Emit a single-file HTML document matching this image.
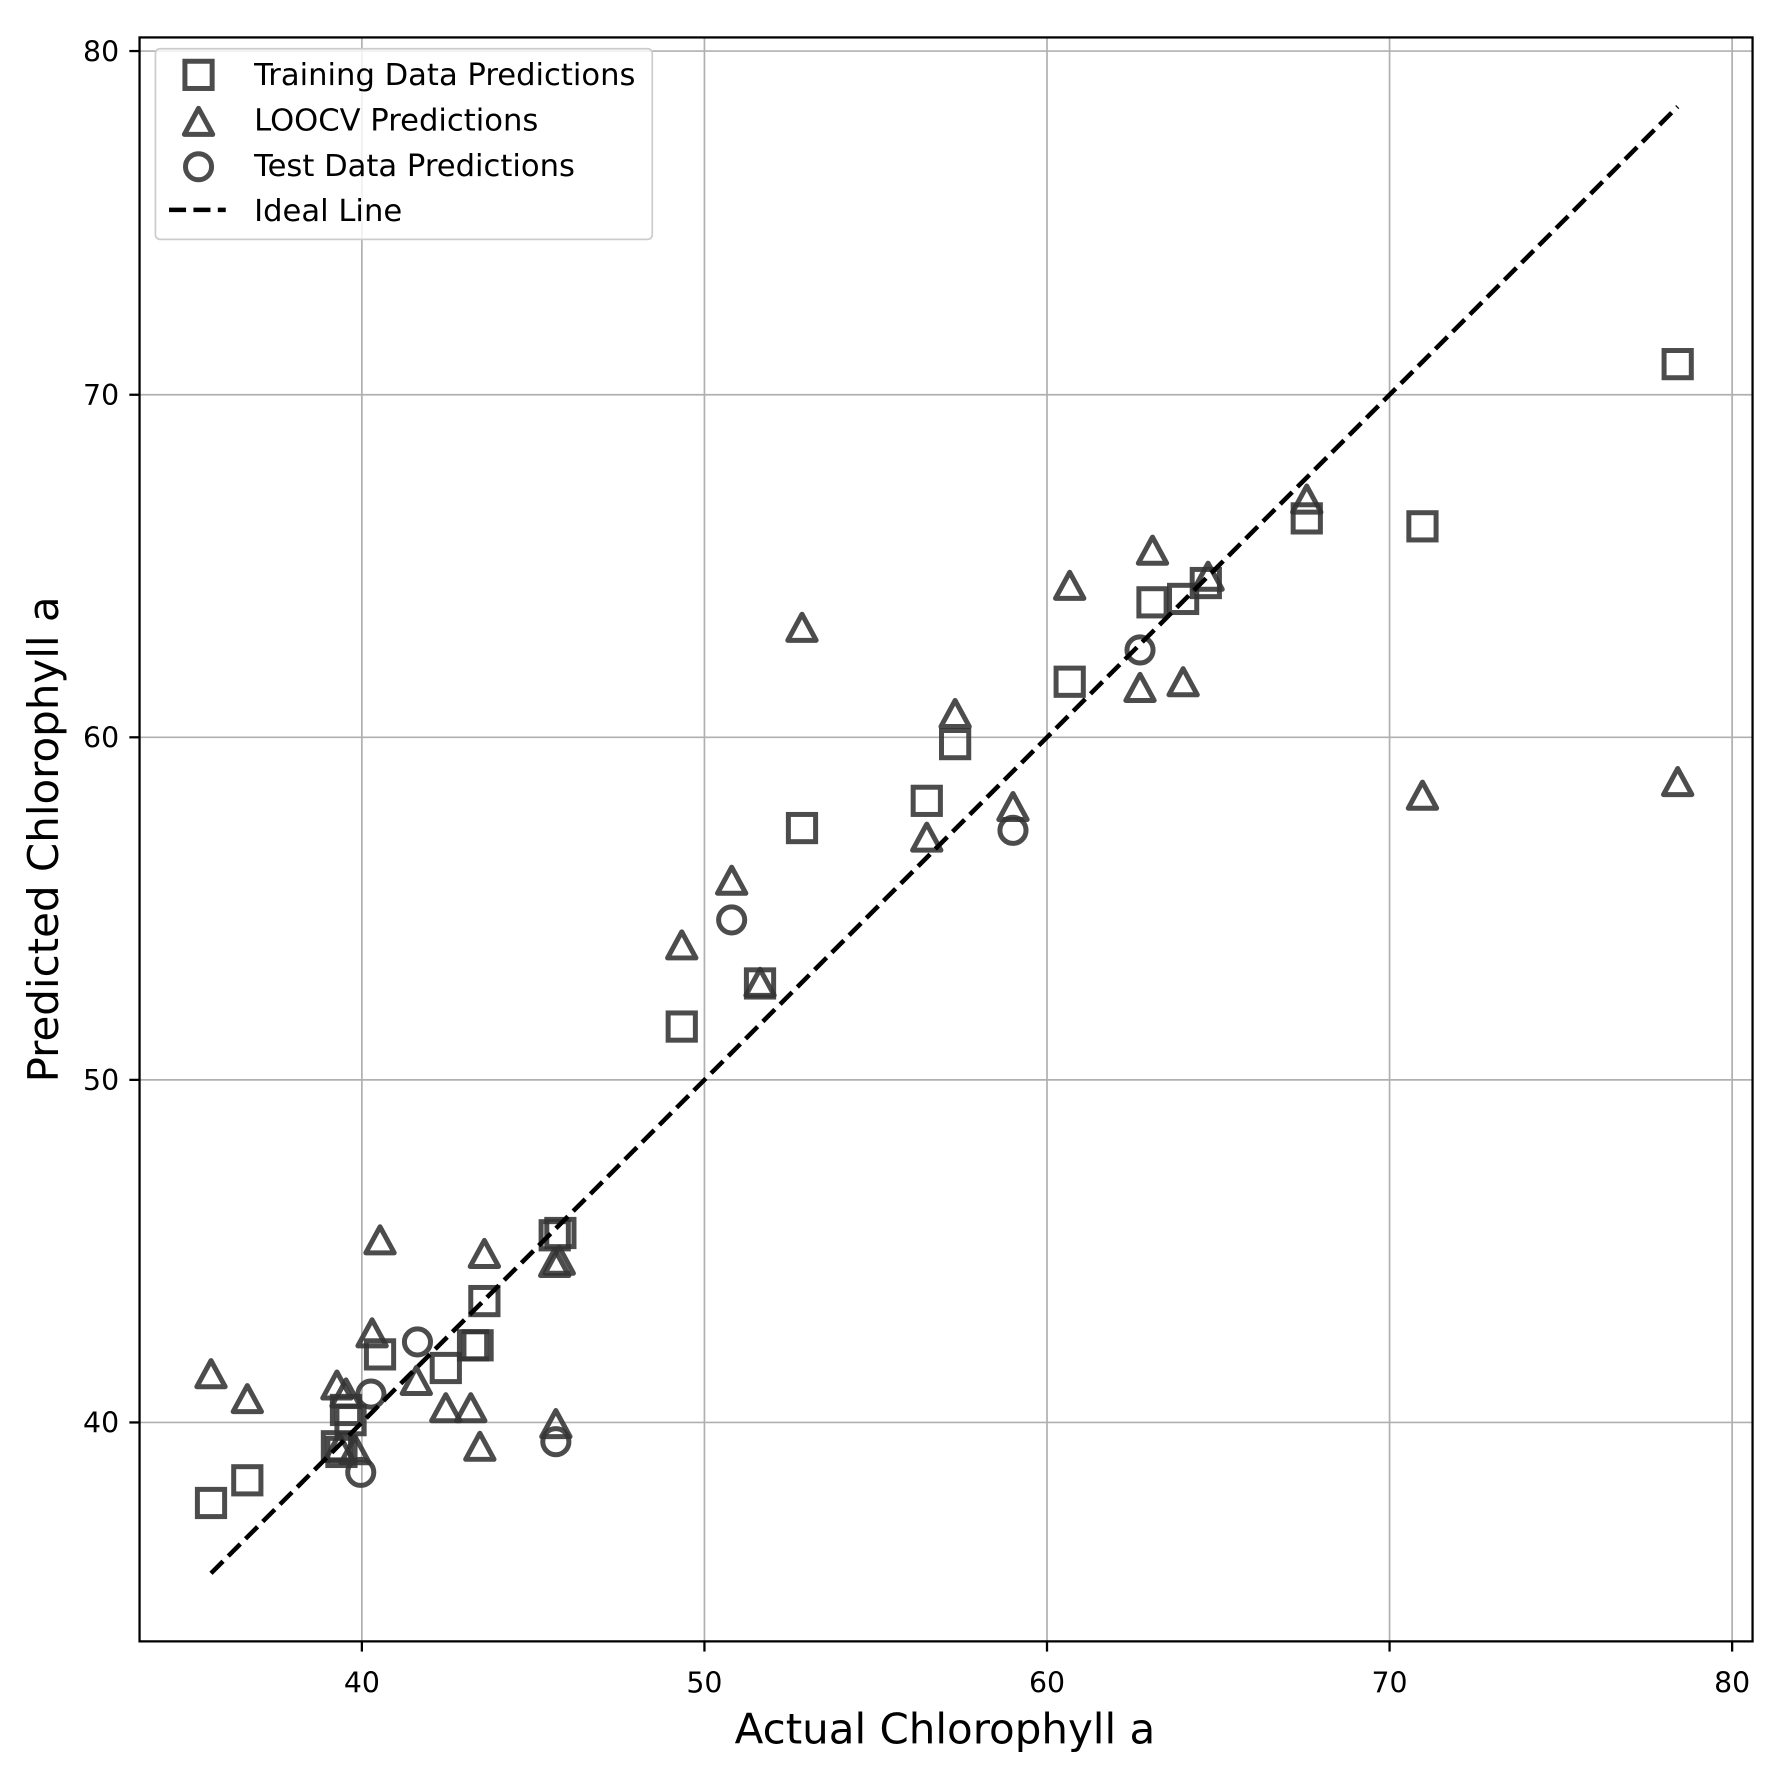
<!DOCTYPE html>
<html><head><meta charset="utf-8"><style>html,body{margin:0;padding:0;background:#fff}svg{display:block}</style></head>
<body>
<svg xmlns="http://www.w3.org/2000/svg" width="1773" height="1770" viewBox="0 0 1563 1560.4" font-family="'DejaVu Sans','Liberation Sans',sans-serif">
<rect width="1563" height="1561" fill="#fff"/>
<defs>
<rect id="sq" x="-12" y="-12" width="24" height="24" fill="none" stroke="#333" stroke-opacity="0.88" stroke-width="4.4"/>
<path id="tr" d="M0,-13.5 L12.5,9.5 L-12.5,9.5 Z" fill="none" stroke="#333" stroke-opacity="0.88" stroke-width="4.4" stroke-linejoin="round"/>
<circle id="ci" r="11.5" fill="none" stroke="#333" stroke-opacity="0.88" stroke-width="4.4"/>
</defs>
<g stroke="#b0b0b0" stroke-width="1.5">
<line x1="319" y1="33" x2="319" y2="1447"/><line x1="621" y1="33" x2="621" y2="1447"/><line x1="923" y1="33" x2="923" y2="1447"/><line x1="1225" y1="33" x2="1225" y2="1447"/><line x1="1527" y1="33" x2="1527" y2="1447"/>
<line x1="123" y1="45" x2="1545" y2="45"/><line x1="123" y1="348" x2="1545" y2="348"/><line x1="123" y1="650" x2="1545" y2="650"/><line x1="123" y1="952" x2="1545" y2="952"/><line x1="123" y1="1254" x2="1545" y2="1254"/>
</g>
<g>
<use href="#sq" x="186" y="1325"/><use href="#sq" x="218" y="1305"/><use href="#sq" x="297" y="1275"/><use href="#sq" x="301" y="1280"/><use href="#sq" x="305" y="1243"/><use href="#sq" x="309" y="1252"/><use href="#sq" x="335" y="1194"/><use href="#sq" x="393" y="1206"/><use href="#sq" x="417" y="1186"/><use href="#sq" x="421" y="1186"/><use href="#sq" x="427" y="1147"/><use href="#sq" x="489" y="1089"/><use href="#sq" x="494" y="1087"/><use href="#sq" x="601" y="905"/><use href="#sq" x="670" y="867"/><use href="#sq" x="707" y="730"/><use href="#sq" x="817" y="706"/><use href="#sq" x="842" y="656"/><use href="#sq" x="943" y="601"/><use href="#sq" x="1016" y="531"/><use href="#sq" x="1043" y="528"/><use href="#sq" x="1063" y="514"/><use href="#sq" x="1152" y="457"/><use href="#sq" x="1254" y="464"/><use href="#sq" x="1479" y="321"/>
<use href="#tr" x="186" y="1213"/><use href="#tr" x="218" y="1235"/><use href="#tr" x="297" y="1223"/><use href="#tr" x="305" y="1230"/><use href="#tr" x="313" y="1280"/><use href="#tr" x="299" y="1278"/><use href="#tr" x="335" y="1095"/><use href="#tr" x="328" y="1177"/><use href="#tr" x="367" y="1219"/><use href="#tr" x="393" y="1243"/><use href="#tr" x="415" y="1243"/><use href="#tr" x="423" y="1277"/><use href="#tr" x="427" y="1107"/><use href="#tr" x="489" y="1115"/><use href="#tr" x="493" y="1113"/><use href="#tr" x="490" y="1257"/><use href="#tr" x="601" y="835"/><use href="#tr" x="645" y="778"/><use href="#tr" x="670" y="868"/><use href="#tr" x="707" y="555"/><use href="#tr" x="817" y="740"/><use href="#tr" x="842" y="631"/><use href="#tr" x="893" y="713"/><use href="#tr" x="943" y="518"/><use href="#tr" x="1016" y="487"/><use href="#tr" x="1005" y="608"/><use href="#tr" x="1043" y="603"/><use href="#tr" x="1152" y="442"/><use href="#tr" x="1254" y="703"/><use href="#tr" x="1479" y="691"/><use href="#tr" x="1065" y="510"/>
<use href="#ci" x="318" y="1298"/><use href="#ci" x="327" y="1229"/><use href="#ci" x="368" y="1183"/><use href="#ci" x="490" y="1271"/><use href="#ci" x="645" y="811"/><use href="#ci" x="893" y="732"/><use href="#ci" x="1005" y="573"/>
</g>
<line x1="186" y1="1387" x2="1479" y2="94" stroke="#000" stroke-width="4" stroke-dasharray="15,6.5"/>
<rect x="123" y="33" width="1422" height="1414" fill="none" stroke="#000" stroke-width="2"/>
<g stroke="#000" stroke-width="2">
<line x1="319" y1="1447" x2="319" y2="1456"/><line x1="621" y1="1447" x2="621" y2="1456"/><line x1="923" y1="1447" x2="923" y2="1456"/><line x1="1225" y1="1447" x2="1225" y2="1456"/><line x1="1527" y1="1447" x2="1527" y2="1456"/>
<line x1="114" y1="45" x2="123" y2="45"/><line x1="114" y1="348" x2="123" y2="348"/><line x1="114" y1="650" x2="123" y2="650"/><line x1="114" y1="952" x2="123" y2="952"/><line x1="114" y1="1254" x2="123" y2="1254"/>
</g>
<g font-size="25" fill="#000">
<g text-anchor="middle"><text x="319" y="1492">40</text><text x="621" y="1492">50</text><text x="923" y="1492">60</text><text x="1225" y="1492">70</text><text x="1527" y="1492">80</text></g>
<g text-anchor="end"><text x="105" y="54">80</text><text x="105" y="357">70</text><text x="105" y="659">60</text><text x="105" y="961">50</text><text x="105" y="1263">40</text></g>
</g>
<text x="833" y="1537" font-size="37" text-anchor="middle">Actual Chlorophyll a</text>
<text transform="translate(51,740) rotate(-90)" font-size="37" text-anchor="middle">Predicted Chlorophyll a</text>
<rect x="137" y="43" width="438" height="168" rx="4" fill="#fff" fill-opacity="0.8" stroke="#ccc" stroke-width="1.5"/>
<use href="#sq" x="175" y="66"/><use href="#tr" x="175" y="109"/><use href="#ci" x="175" y="147"/>
<line x1="149" y1="185" x2="199" y2="185" stroke="#000" stroke-width="4" stroke-dasharray="15,6.5"/>
<g font-size="27" fill="#000">
<text x="224" y="75">Training Data Predictions</text>
<text x="224" y="115">LOOCV Predictions</text>
<text x="224" y="155">Test Data Predictions</text>
<text x="224" y="195">Ideal Line</text>
</g>
</svg>
</body></html>
